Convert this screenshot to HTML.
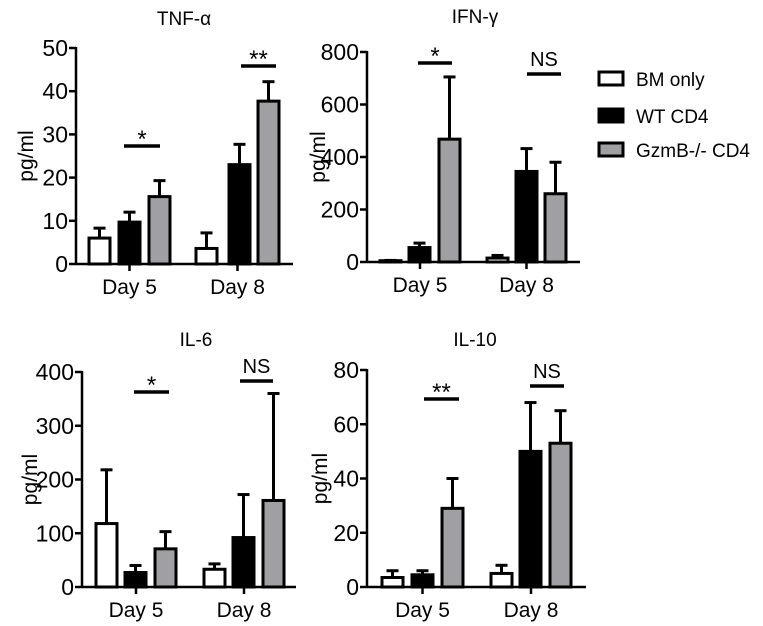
<!DOCTYPE html>
<html><head><meta charset="utf-8"><style>
body{margin:0;background:#fff;width:763px;height:626px;overflow:hidden}
svg{display:block}
text{font-family:"Liberation Sans",Arial,sans-serif;fill:#000}
</style></head><body>
<svg id="fig" width="763" height="626" viewBox="0 0 763 626">
<g>
<rect x="599" y="72" width="24" height="13" fill="#fff" stroke="#000" stroke-width="3"/>
<text x="636" y="86" font-size="19">BM only</text>
<rect x="599" y="109" width="24" height="13" fill="#000" stroke="#000" stroke-width="3"/>
<text x="636" y="123" font-size="19">WT CD4</text>
<rect x="599" y="143" width="24" height="13" fill="#a0a0a4" stroke="#000" stroke-width="3"/>
<text x="636" y="157" font-size="19">GzmB-/- CD4</text>
</g>
</svg>
<script>
const categories = ["Day 5", "Day 8"];
const groups = ["BM only", "WT CD4", "GzmB-/- CD4"];
const tnfValues = [[6, 9.7, 15.6], [3.6, 23, 37.7]];
const tnfErrTop = [[8.3, 12, 19.3], [7.2, 27.7, 42.2]];
const tnfTicks = [0, 10, 20, 30, 40, 50];
const ifnValues = [[5, 55, 468], [15, 345, 260]];
const ifnErrTop = [[6, 72, 705], [25, 432, 380]];
const ifnTicks = [0, 200, 400, 600, 800];
const il6Values = [[118, 27, 71], [33, 92, 161]];
const il6ErrTop = [[218, 40, 103], [43, 172, 360]];
const il6Ticks = [0, 100, 200, 300, 400];
const il10Values = [[3.5, 4.5, 29], [5, 50, 53]];
const il10ErrTop = [[6, 6, 40], [8, 68, 65]];
const il10Ticks = [0, 20, 40, 60, 80];
const sigLabels = [["*", "**"], ["*", "NS"], ["*", "NS"], ["**", "NS"]];

const NS = "http://www.w3.org/2000/svg";
const svg = document.getElementById("fig");
const fills = ["#fff", "#000", "#a0a0a4"];
function mk(tag, attrs, parent) {
  const e = document.createElementNS(NS, tag);
  for (const k in attrs) e.setAttribute(k, attrs[k]);
  parent.appendChild(e);
  return e;
}
const panels = [
  {name:"tnf", title:"TNF-\u03b1", vals:tnfValues, err:tnfErrTop, ticks:tnfTicks, ax:76, y0:264, yTop:48, xEnd:293, title_x:184, title_y:25, ylab_x:26, bars:[[89,119,149],[196,229,258]], sig:[[124,160,146],[241,276,66]], sigi:0},
  {name:"ifn", title:"IFN-\u03b3", vals:ifnValues, err:ifnErrTop, ticks:ifnTicks, ax:367, y0:262, yTop:52, xEnd:580, title_x:475, title_y:23, ylab_x:318, bars:[[380,409,439],[487,516,545]], sig:[[418,452,63],[527,561,74]], sigi:1},
  {name:"il6", title:"IL-6", vals:il6Values, err:il6ErrTop, ticks:il6Ticks, ax:82, y0:587, yTop:372, xEnd:296, title_x:196, title_y:346, ylab_x:30, bars:[[96,125,155],[204,233,263]], sig:[[134,169,392],[240,273,381]], sigi:2},
  {name:"il10", title:"IL-10", vals:il10Values, err:il10ErrTop, ticks:il10Ticks, ax:367, y0:587, yTop:370, xEnd:586, title_x:475, title_y:346, ylab_x:320, bars:[[382,412,442],[491,520,550]], sig:[[424,459,399],[530,564,386]], sigi:3}
];
const BW = 21;
panels.forEach(p => {
  const g = mk("g", {}, svg);
  
  
  const maxT = p.ticks[p.ticks.length - 1];
  const y = v => p.y0 - (v / maxT) * (p.y0 - p.yTop);
  const t = mk("text", {x:p.title_x, y:p.title_y, "font-size":19, "text-anchor":"middle"}, g);
  t.textContent = p.title;
  
  
  const yl = mk("text", {x:p.ylab_x, y:(p.y0 + p.yTop) / 2, "font-size":21, "text-anchor":"middle", transform:`rotate(-90 ${p.ylab_x} ${(p.y0 + p.yTop) / 2})`, dy:"7"}, g);
  yl.textContent = "pg/ml";
  
  
  p.vals.forEach((grp, ci) => {
    grp.forEach((v, gi) => {
      const x = p.bars[ci][gi];
      const top = y(v), et = y(p.err[ci][gi]);
      const l = mk("line", {x1:x + BW / 2, x2:x + BW / 2, y1:top, y2:et, stroke:"#000", "stroke-width":3}, g);
      
      
      const c = mk("line", {x1:x + BW / 2 - 6, x2:x + BW / 2 + 6, y1:et, y2:et, stroke:"#000", "stroke-width":3}, g);
      
      
      const r = mk("rect", {x:x, y:top, width:BW, height:Math.max(0, p.y0 - top), fill:fills[gi], stroke:"#000", "stroke-width":3}, g);
      
      
    });
    const cx = (p.bars[ci][0] + p.bars[ci][2] + BW) / 2;
    mk("line", {x1:cx, x2:cx, y1:p.y0, y2:p.y0 + 7, stroke:"#000", "stroke-width":2.5}, g);
    const ct = mk("text", {x:cx, y:p.y0 + 30, "font-size":21, "text-anchor":"middle"}, g);
    ct.textContent = categories[ci];
    
    
  });
  const ya = mk("line", {x1:p.ax, x2:p.ax, y1:p.yTop - 1, y2:p.y0 + 1, stroke:"#000", "stroke-width":2.5}, g);
  
  
  const xa = mk("line", {x1:p.ax, x2:p.xEnd, y1:p.y0, y2:p.y0, stroke:"#000", "stroke-width":2.5}, g);
  
  
  p.ticks.forEach(tv => {
    mk("line", {x1:p.ax - 7, x2:p.ax, y1:y(tv), y2:y(tv), stroke:"#000", "stroke-width":2.5}, g);
    const tt = mk("text", {x:p.ax - 8, y:y(tv) + 8, "font-size":23, "text-anchor":"end"}, g);
    tt.textContent = tv;
    
    
  });
  p.sig.forEach((s, i) => {
    const sl = mk("line", {x1:s[0], x2:s[1], y1:s[2], y2:s[2], stroke:"#000", "stroke-width":3.5}, g);
    
    
    const lab = sigLabels[p.sigi][i];
    const st = mk("text", {x:(s[0] + s[1]) / 2, y:lab === "NS" ? s[2] - 8 : s[2] + 1, "font-size":lab === "NS" ? 20 : 24, "text-anchor":"middle"}, g);
    st.textContent = lab;
    
    
  });
});
</script>
</body></html>
